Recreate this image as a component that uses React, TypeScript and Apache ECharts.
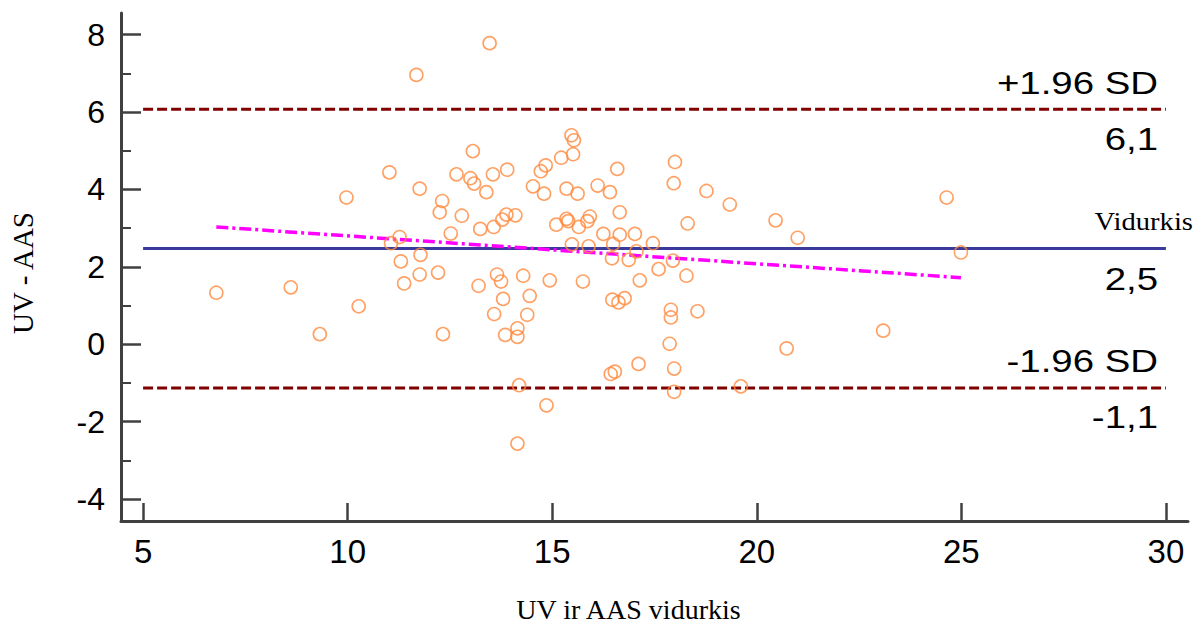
import React, { useEffect, useRef } from "react";
import * as echarts from "echarts";

// Bland-Altman data: mean of UV and AAS (x) vs difference UV - AAS (y)
const meanValues = [
  6.79, 8.61, 9.32, 9.97, 10.27, 11.02, 11.06, 11.27, 11.30, 11.38,
  11.68, 11.76, 11.78, 11.76, 12.21, 12.25, 12.31, 12.33, 12.52, 12.66,
  12.79, 13.00, 13.06, 13.09, 13.20, 13.24, 13.39, 13.47, 13.55, 13.57,
  13.58, 13.65, 13.75, 13.78, 13.80, 13.88, 13.85, 13.90, 14.10, 14.15,
  14.15, 14.19, 14.15, 14.29, 14.39, 14.45, 14.53, 14.72, 14.80, 14.84,
  14.86, 14.94, 15.10, 15.22, 15.35, 15.35, 15.39, 15.47, 15.53, 15.51,
  15.48, 15.62, 15.65, 15.75, 15.86, 15.92, 15.89, 16.11, 16.25, 16.41,
  16.47, 16.49, 16.46, 16.43, 16.53, 16.59, 16.62, 16.65, 16.65, 16.77,
  16.87, 17.02, 17.06, 17.11, 17.14, 17.46, 17.60, 17.87, 17.90, 17.90,
  17.95, 17.97, 17.98, 17.98, 18.00, 18.28, 18.31, 18.55, 18.77, 19.34,
  19.61, 20.46, 20.73, 21.00, 23.09, 24.64, 24.99,
];
const diffValues = [
  1.33, 1.47, 0.26, 3.79, 0.98, 4.44, 2.61, 2.77, 2.14, 1.57,
  6.96, 4.02, 2.31, 1.80, 1.85, 3.41, 3.70, 0.26, 2.86, 4.39,
  3.32, 4.29, 4.99, 4.15, 1.51, 2.98, 3.93, 7.78, 4.39, 3.03,
  0.78, 1.80, 1.62, 3.22, 1.17, 3.35, 0.24, 4.51, 3.33, 0.41,
  0.19, -1.06, -2.57, 1.77, 0.76, 1.25, 4.08, 4.47, 3.89, 4.62,
  -1.58, 1.65, 3.09, 4.82, 4.02, 3.24, 3.18, 5.40, 5.27, 4.91,
  2.58, 3.89, 3.03, 1.62, 3.18, 3.30, 2.53, 4.10, 2.85, 3.93,
  1.15, 2.59, 2.22, -0.77, -0.71, 4.53, 1.08, 3.41, 2.83, 1.19,
  2.18, 2.85, 2.40, -0.51, 1.65, 2.61, 1.94, 0.01, 0.89, 0.69,
  2.16, 4.16, -0.63, -1.23, 4.71, 1.77, 3.12, 0.85, 3.96, 3.61,
  -1.09, 3.20, -0.11, 2.75, 0.35, 3.79, 2.37,
];

const meanDiff = 2.47;
const upperLimit = 6.07;
const lowerLimit = -1.13;
const lineXRange = [5, 30];

const regressionX = [6.79, 24.99];
const regressionY = [3.03, 1.72];

const xTicks = [5, 10, 15, 20, 25, 30];
const yMajorTicks = [-4, -2, 0, 2, 4, 6, 8];
const yMinorTicks = [-3, -1, 1, 3, 5, 7];

const upperTitle = "+1.96 SD";
const meanTitle = "Vidurkis";
const lowerTitle = "-1.96 SD";
const xAxisTitle = "UV ir AAS vidurkis";
const yAxisTitle = "UV - AAS";

const fmt = (v: number) => v.toFixed(1).replace(".", ",");

export default function App() {
  const ref = useRef<HTMLDivElement | null>(null);

  useEffect(() => {
    if (!ref.current) return;
    const chart = echarts.init(ref.current, null, { renderer: "svg" });
    const axisColor = "#404040";
    const sans = "'Liberation Sans', Arial, sans-serif";
    const serif = "'Liberation Serif', 'Times New Roman', serif";

    const points = meanValues.map((x, i) => [x, diffValues[i]]);

    chart.setOption({
      animation: false,
      backgroundColor: "#ffffff",
      grid: { left: 120, right: 10, top: 13, bottom: 107, containLabel: false },
      xAxis: {
        type: "value",
        min: 4.46,
        max: 30.54,
        axisLine: { show: true, onZero: false, lineStyle: { color: axisColor, width: 3 } },
        axisTick: {
          show: true,
          inside: true,
          length: 18,
          customValues: xTicks,
          lineStyle: { color: axisColor, width: 2.5 },
        },
        axisLabel: {
          show: true,
          customValues: xTicks,
          margin: 14,
          color: "#000",
          fontFamily: sans,
          fontSize: 33,
        },
        splitLine: { show: false },
        name: xAxisTitle,
        nameLocation: "middle",
        nameGap: 74,
        nameTextStyle: {
          fontFamily: serif,
          fontSize: 28,
          color: "#000",
          padding: [0, 52, 0, 0],
        },
      },
      yAxis: [
        {
          type: "value",
          min: -4.57,
          max: 8.56,
          position: "left",
          axisLine: { show: true, onZero: false, lineStyle: { color: axisColor, width: 3 } },
          axisTick: {
            show: true,
            inside: true,
            length: 20,
            customValues: yMajorTicks,
            lineStyle: { color: axisColor, width: 2.5 },
          },
          axisLabel: {
            show: true,
            customValues: yMajorTicks,
            margin: 16,
            color: "#000",
            fontFamily: sans,
            fontSize: 32,
          },
          splitLine: { show: false },
          name: yAxisTitle,
          nameLocation: "middle",
          nameRotate: 90,
          nameGap: 84,
          nameTextStyle: {
            fontFamily: serif,
            fontSize: 29,
            color: "#000",
            padding: [0, 12, 0, 0],
          },
        },
        {
          type: "value",
          min: -4.57,
          max: 8.56,
          position: "left",
          offset: 0,
          axisLine: { show: false },
          axisTick: {
            show: true,
            inside: true,
            length: 10,
            customValues: yMinorTicks,
            lineStyle: { color: axisColor, width: 2 },
          },
          axisLabel: { show: false },
          splitLine: { show: false },
        },
      ],
      series: [
        {
          type: "line",
          data: lineXRange.map((x) => [x, meanDiff]),
          symbol: "none",
          lineStyle: { color: "#3A3A9A", width: 3 },
          z: 2,
          silent: true,
        },
        {
          type: "line",
          data: lineXRange.map((x) => [x, upperLimit]),
          symbol: "none",
          lineStyle: { color: "#800000", width: 3, type: [10, 4] },
          z: 2,
          silent: true,
        },
        {
          type: "line",
          data: lineXRange.map((x) => [x, lowerLimit]),
          symbol: "none",
          lineStyle: { color: "#800000", width: 3, type: [10, 4] },
          z: 2,
          silent: true,
        },
        {
          type: "line",
          data: regressionX.map((x, i) => [x, regressionY[i]]),
          symbol: "none",
          lineStyle: { color: "#FF00FF", width: 3.5, type: [12, 4, 3, 4] },
          z: 3,
          silent: true,
        },
        {
          type: "scatter",
          data: points,
          symbol: "circle",
          symbolSize: 13,
          itemStyle: {
            color: "rgba(255,255,255,0)",
            borderColor: "#FF8A3D",
            borderWidth: 1.6,
          },
          z: 4,
        },
      ],
    });

    const yPix = (v: number) => chart.convertToPixel({ yAxisIndex: 0 }, v) as number;
    const rightX = 1158;
    const mk = (text: string, x: number, y: number, font: string, sx: number) => ({
      type: "text",
      x,
      y,
      scaleX: sx,
      z: 10,
      style: {
        text,
        font,
        fill: "#000",
        align: "right",
        textAlign: "right",
        verticalAlign: "middle",
        textVerticalAlign: "middle",
      },
    });
    const sansFont = "32px 'Liberation Sans', Arial, sans-serif";
    const serifFont = "26px 'Liberation Serif', 'Times New Roman', serif";
    chart.setOption({
      graphic: [
        mk(upperTitle, rightX, yPix(upperLimit) - 27, sansFont, 1.2),
        mk(fmt(upperLimit), rightX, yPix(upperLimit) + 29, sansFont, 1.2),
        mk(meanTitle, 1193, yPix(meanDiff) - 27, serifFont, 1.1),
        mk(fmt(meanDiff), rightX, yPix(meanDiff) + 30, sansFont, 1.2),
        mk(lowerTitle, rightX, yPix(lowerLimit) - 27, sansFont, 1.2),
        mk(fmt(lowerLimit), rightX, yPix(lowerLimit) + 29, sansFont, 1.2),
      ],
    });

    return () => chart.dispose();
  }, []);

  return (
    <div
      ref={ref}
      style={{ position: "absolute", left: 0, top: 0, width: 1198, height: 628 }}
    />
  );
}
